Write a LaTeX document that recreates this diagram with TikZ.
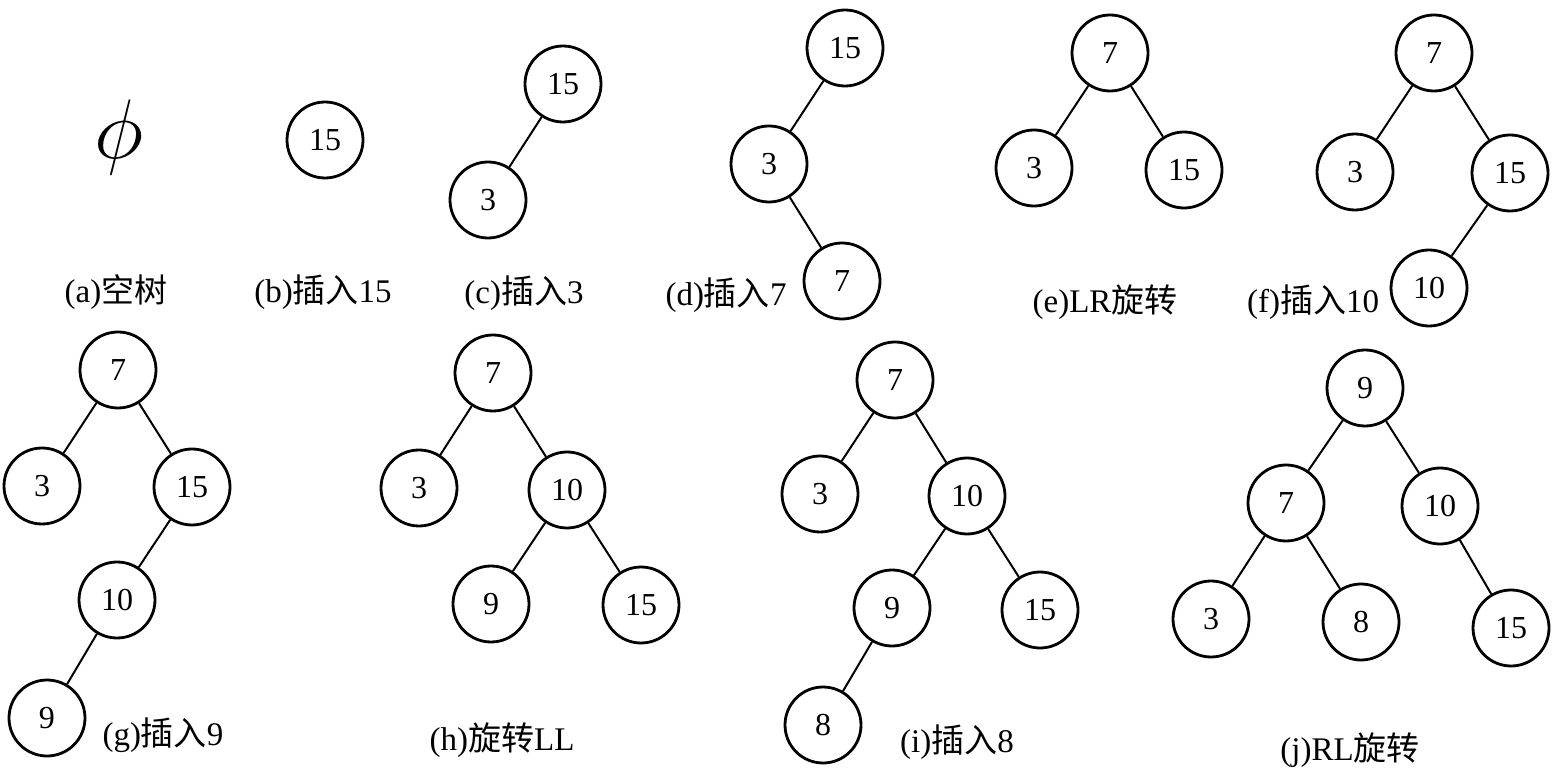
\documentclass[tikz,border=0pt]{standalone}
\usepackage{fontspec}
\setmainfont{Liberation Serif}
\newfontfamily\cjk{Noto Sans CJK SC}

\begin{document}
\begin{tikzpicture}[
x=0.5pt, y=-0.5pt,
vertex/.style={circle, draw, line width=1.4pt, minimum size=38pt, inner sep=0pt, font=\fontsize{16}{16}\selectfont},
caption/.style={inner sep=0pt, font=\fontsize{16.5}{16.5}\selectfont},
link/.style={line width=1pt},
]
\useasboundingbox (0,0) rectangle (1556,779);
\node[inner sep=0pt] (a0) at (119,137) {\scalebox{1.7}{\fontsize{24}{24}\selectfont$\phi$}};
\node[caption] (la) at (116,292) {(a){\cjk 空树}};
\node[vertex] (b15) at (325,140) {15};
\node[caption] (lb) at (323,292) {(b){\cjk 插入}15};
\node[vertex] (c15) at (563,84) {15};
\node[vertex] (c3) at (488,200) {3};
\draw[link] (c15) -- (c3);
\node[caption] (lc) at (524,293) {(c){\cjk 插入}3};
\node[vertex] (d15) at (845,48) {15};
\node[vertex] (d3) at (769,164) {3};
\node[vertex] (d7) at (842,281) {7};
\draw[link] (d15) -- (d3) -- (d7);
\node[caption] (ld) at (726,295) {(d){\cjk 插入}7};
\node[vertex] (e7) at (1110,53) {7};
\node[vertex] (e3) at (1034,168) {3};
\node[vertex] (e15) at (1184,170) {15};
\draw[link] (e3) -- (e7) -- (e15);
\node[caption] (le) at (1105,302) {(e)LR{\cjk 旋转}};
\node[vertex] (f7) at (1434,53) {7};
\node[vertex] (f3) at (1355,172) {3};
\node[vertex] (f15) at (1510,173) {15};
\node[vertex] (f10) at (1429,288) {10};
\draw[link] (f3) -- (f7) -- (f15) -- (f10);
\node[caption] (lf) at (1313,302) {(f){\cjk 插入}10};
\node[vertex] (g7) at (118,370) {7};
\node[vertex] (g3) at (42,486) {3};
\node[vertex] (g15) at (192,487) {15};
\node[vertex] (g10) at (117,600) {10};
\node[vertex] (g9) at (47,718) {9};
\draw[link] (g3) -- (g7) -- (g15) -- (g10) -- (g9);
\node[caption] (lg) at (163,735) {(g){\cjk 插入}9};
\node[vertex] (h7) at (493,373) {7};
\node[vertex] (h3) at (419,488) {3};
\node[vertex] (h10) at (567,490) {10};
\node[vertex] (h9) at (491,604) {9};
\node[vertex] (h15) at (641,605) {15};
\draw[link] (h3) -- (h7) -- (h10) -- (h9);
\draw[link] (h10) -- (h15);
\node[caption] (lh) at (502,740) {(h){\cjk 旋转}LL};
\node[vertex] (i7) at (895,380) {7};
\node[vertex] (i3) at (820,494) {3};
\node[vertex] (i10) at (967,496) {10};
\node[vertex] (i9) at (892,608) {9};
\node[vertex] (i15) at (1040,610) {15};
\node[vertex] (i8) at (823,725) {8};
\draw[link] (i3) -- (i7) -- (i10) -- (i9) -- (i8);
\draw[link] (i10) -- (i15);
\node[caption] (li) at (957,742) {(i){\cjk 插入}8};
\node[vertex] (j9) at (1365,388) {9};
\node[vertex] (j7) at (1286,503) {7};
\node[vertex] (j10) at (1440,506) {10};
\node[vertex] (j3) at (1211,619) {3};
\node[vertex] (j8) at (1361,622) {8};
\node[vertex] (j15) at (1511,628) {15};
\draw[link] (j7) -- (j9) -- (j10) -- (j15);
\draw[link] (j3) -- (j7) -- (j8);
\node[caption] (lj) at (1350,750) {(j)RL{\cjk 旋转}};
\end{tikzpicture}
\end{document}
